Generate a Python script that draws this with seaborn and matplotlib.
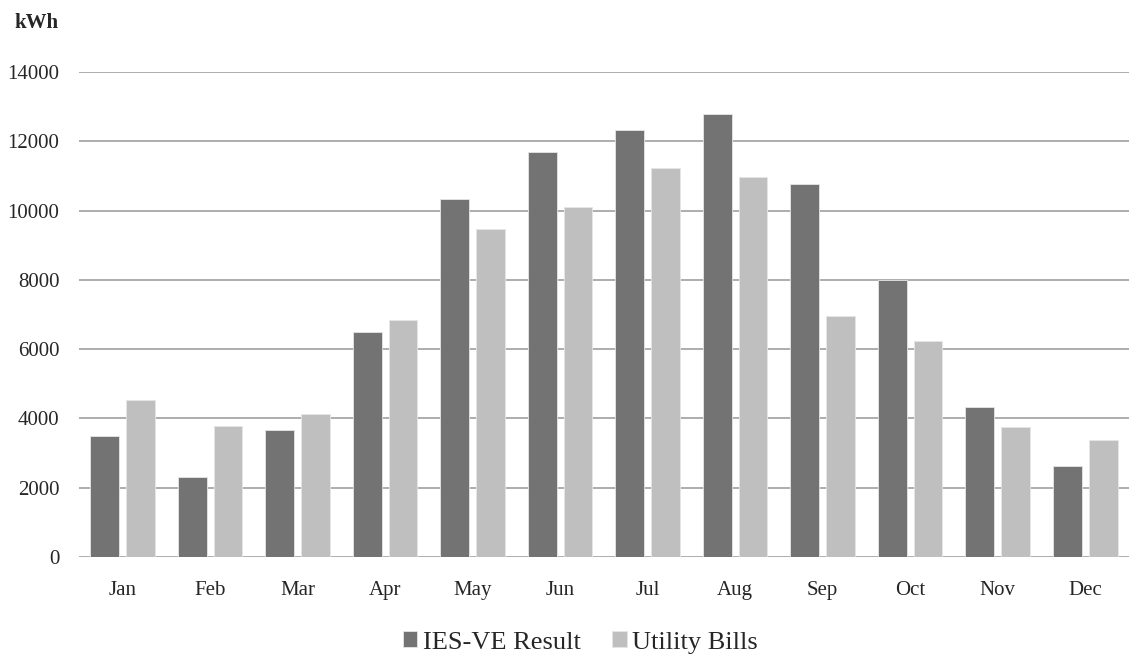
import numpy as np
import pandas as pd
import matplotlib.pyplot as plt
import seaborn as sns

months = ["Jan", "Feb", "Mar", "Apr", "May", "Jun", "Jul", "Aug", "Sep", "Oct", "Nov", "Dec"]
ies_ve = [3500, 2320, 3660, 6500, 10320, 11700, 12330, 12780, 10760, 8000, 4340, 2640]
utility = [4530, 3780, 4130, 6830, 9460, 10100, 11230, 10980, 6970, 6230, 3750, 3380]
series = ["IES-VE Result", "Utility Bills"]

df = pd.DataFrame({"Month": months, series[0]: ies_ve, series[1]: utility})
long_df = df.melt(id_vars="Month", value_vars=series, var_name="Series", value_name="kWh")

sns.set_style("white")
plt.rcParams["font.family"] = ["Liberation Serif", "DejaVu Serif"]

fig = plt.figure(figsize=(11.31, 6.57), dpi=100)
ax = fig.add_axes([0.0698, 0.1522, 0.9284, 0.7382])

sns.barplot(data=long_df, x="Month", y="kWh", hue="Series", order=months,
            hue_order=series, palette=["#737373", "#bfbfbf"], width=0.82, gap=0.2,
            edgecolor="#e6e6e6", linewidth=0.6, ax=ax, zorder=3)

ax.set_ylim(0, 14000)
ax.set_xlim(-0.5, 11.5)
ax.set_yticks(np.arange(0, 14001, 2000))
ax.yaxis.grid(True, color="#a0a0a0", linewidth=1.2, zorder=0)
ax.set_axisbelow(True)
for s in ax.spines.values():
    s.set_visible(False)
ax.tick_params(axis="y", length=0, labelsize=15, pad=14)
ax.tick_params(axis="x", length=0, labelsize=15, pad=17)
ax.set_xlabel("")
ax.set_ylabel("")
fig.text(0.013, 0.965, "kWh", fontsize=15, fontweight="bold", va="center")

ax.legend(loc="center", bbox_to_anchor=(0.513, 0.022), bbox_transform=fig.transFigure,
          ncol=2, frameon=False, fontsize=19, handlelength=0.55, handleheight=0.55,
          handletextpad=0.2, columnspacing=1.2)

fig.savefig("out.png", dpi=100)
